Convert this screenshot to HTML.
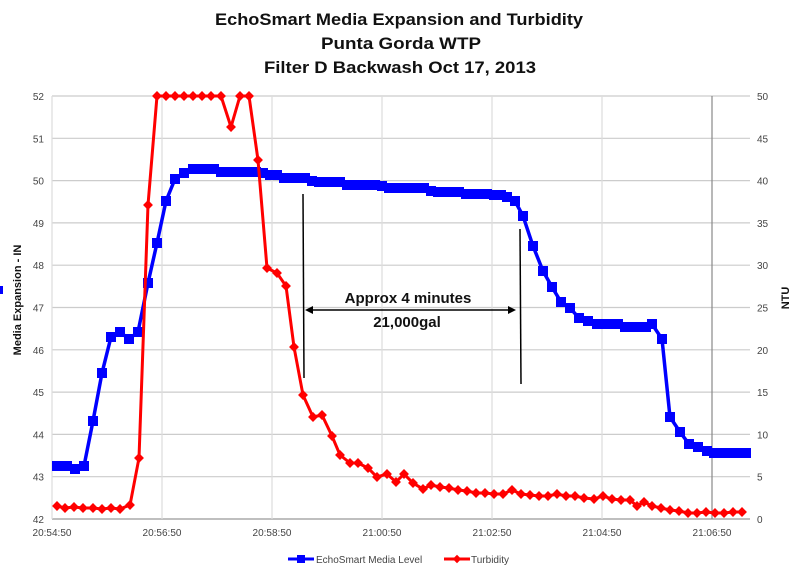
<!DOCTYPE html>
<html><head><meta charset="utf-8"><style>
html,body{margin:0;padding:0;background:#fff;width:800px;height:572px;overflow:hidden}
svg{display:block;font-family:"Liberation Sans",sans-serif}
</style></head><body>
<svg id="s" width="800" height="572" viewBox="0 0 800 572" xmlns="http://www.w3.org/2000/svg">
<g font-weight="bold" font-size="17" fill="#111" text-anchor="middle">
<text x="399" y="25" textLength="368" lengthAdjust="spacingAndGlyphs">EchoSmart Media Expansion and Turbidity</text>
<text x="401" y="49" textLength="160" lengthAdjust="spacingAndGlyphs">Punta Gorda WTP</text>
<text x="400" y="73" textLength="272" lengthAdjust="spacingAndGlyphs">Filter D Backwash Oct 17, 2013</text>
</g>
<g id="grid"></g>
<g id="ser"></g>
<g stroke="#000" stroke-width="1.5" fill="none">
<line x1="303" y1="194" x2="304" y2="378"/>
<line x1="520" y1="229" x2="521" y2="384"/>
<line x1="309" y1="310" x2="512" y2="310"/>
</g>
<polygon points="305,310 313,306 313,314" fill="#000"/>
<polygon points="516,310 508,306 508,314" fill="#000"/>
<g font-weight="bold" font-size="15" fill="#111" text-anchor="middle">
<text x="408" y="303">Approx 4 minutes</text>
<text x="407" y="327">21,000gal</text>
</g>
<g font-size="11" font-weight="bold" fill="#111">
<text transform="translate(21,300) rotate(-90)" text-anchor="middle">Media Expansion - IN</text>
<text transform="translate(789,298) rotate(-90)" text-anchor="middle">NTU</text>
</g>
<rect x="0" y="286" width="3" height="8" fill="#00f"/>
<g font-size="10" fill="#444">
<line x1="288" y1="559" x2="314" y2="559" stroke="#00f" stroke-width="3"/>
<rect x="297" y="555" width="8" height="8" fill="#00f"/>
<text x="316" y="563">EchoSmart Media Level</text>
<line x1="444" y1="559" x2="470" y2="559" stroke="#f00" stroke-width="3"/>
<rect x="454" y="556" width="6" height="6" fill="#f00" transform="rotate(45 457 559)"/>
<text x="471" y="563">Turbidity</text>
</g>
</svg>
<script>
var ns="http://www.w3.org/2000/svg",g=document.getElementById("grid"),S=document.getElementById("ser");
function el(p,t,a){var e=document.createElementNS(ns,t);for(var k in a)e.setAttribute(k,a[k]);p.appendChild(e);return e}
for(var i=0;i<=10;i++){var y=96+i*42.3;el(g,"line",{x1:52,x2:750,y1:y,y2:y,stroke:i==10?"#999":"#ccc","stroke-width":1.2});
var t=el(g,"text",{x:44,y:y+4,"font-size":10,fill:"#444","text-anchor":"end"});t.textContent=52-i;
var t2=el(g,"text",{x:757,y:y+4,"font-size":10,fill:"#444"});t2.textContent=50-5*i;}
var lab=["20:54:50","20:56:50","20:58:50","21:00:50","21:02:50","21:04:50","21:06:50"];
for(var i=0;i<7;i++){var x=52+i*110;el(g,"line",{x1:x,x2:x,y1:96,y2:519,stroke:i==6?"#888":"#ddd","stroke-width":1.2});
var t=el(g,"text",{x:x,y:536,"font-size":10,fill:"#444","text-anchor":"middle"});t.textContent=lab[i];}
el(g,"line",{x1:52,x2:52,y1:96,y2:519,stroke:"#ddd"});
var B=[[57,466],[62,466],[67,466],[75,469],[84,466],[93,421],[102,373],[111,337],[120,332],[129,339],[138,332],[148,283],[157,243],[166,201],[175,179],[184,173],[193,169],[200,169],[207,169],[214,169],[221,172],[228,172],[235,172],[242,172],[249,172],[256,172],[263,173],[270,175],[277,175],[284,178],[291,178],[298,178],[305,178],[312,181],[319,182],[326,182],[333,182],[340,182],[347,185],[354,185],[361,185],[368,185],[375,185],[382,186],[389,188],[396,188],[403,188],[410,188],[417,188],[424,188],[431,191],[438,192],[445,192],[452,192],[459,192],[466,194],[473,194],[480,194],[487,194],[494,195],[501,195],[507,197],[515,201],[523,216],[533,246],[543,271],[552,287],[561,302],[570,308],[579,318],[588,321],[597,324],[604,324],[611,324],[618,324],[625,327],[632,327],[639,327],[646,327],[652,324],[662,339],[670,417],[680,432],[689,444],[698,447],[707,451],[714,453],[721,453],[728,453],[735,453],[742,453],[746,453]];
var R=[[57,506],[65,508],[74,507],[83,508],[93,508],[102,509],[111,508],[120,509],[130,505],[139,458],[148,205],[157,96],[166,96],[175,96],[184,96],[193,96],[202,96],[211,96],[221,96],[231,127],[240,96],[249,96],[258,160],[267,268],[277,273],[286,286],[294,347],[303,395],[313,417],[322,415],[332,436],[340,455],[350,463],[358,463],[368,468],[377,477],[387,474],[396,482],[404,474],[413,483],[423,489],[431,485],[440,487],[449,488],[458,490],[467,491],[476,493],[485,493],[494,494],[503,494],[512,490],[521,494],[530,495],[539,496],[548,496],[557,494],[566,496],[575,496],[584,498],[594,499],[603,496],[612,499],[621,500],[630,500],[637,506],[644,502],[652,506],[661,508],[670,510],[679,511],[688,513],[697,513],[706,512],[715,513],[724,513],[733,512],[742,512]];
function pts(a){return a.map(function(p){return p.join(",")}).join(" ")}
el(S,"polyline",{points:pts(B),fill:"none",stroke:"#00f","stroke-width":3.5});
B.forEach(function(p){el(S,"rect",{x:p[0]-5,y:p[1]-5,width:10,height:10,fill:"#00f"})});
el(S,"polyline",{points:pts(R),fill:"none",stroke:"#f00","stroke-width":3});
R.forEach(function(p){el(S,"rect",{x:p[0]-3.5,y:p[1]-3.5,width:7,height:7,fill:"#f00",transform:"rotate(45 "+p[0]+" "+p[1]+")"})});
</script>
</body></html>
